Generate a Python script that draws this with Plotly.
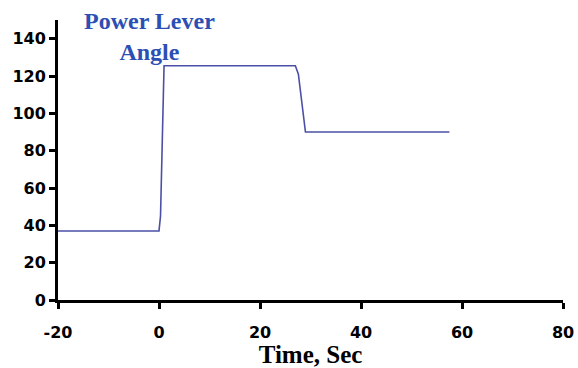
import plotly.graph_objects as go

time_sec = [-20, 0, 0.3, 1.0, 27.0, 27.6, 29.0, 57.5]
pla_deg = [37, 37, 45, 125.5, 125.5, 121, 90, 90]

x_ticks = [-20, 0, 20, 40, 60, 80]
x_labels = ["-20", "0", "20", "40", "60", "80"]
y_ticks = [0, 20, 40, 60, 80, 100, 120, 140]

fig = go.Figure()
fig.add_trace(go.Scatter(x=time_sec, y=pla_deg, mode="lines",
                         line=dict(color="#4b50a6", width=1.6),
                         showlegend=False, hoverinfo="skip"))

tick_font = dict(family="DejaVu Sans", size=16, color="black", weight="bold")

fig.update_layout(
    width=578, height=368,
    margin=dict(l=58, r=15, t=19.5, b=68, autoexpand=False),
    paper_bgcolor="white", plot_bgcolor="white",
    xaxis=dict(range=[-20, 80], tickvals=x_ticks, ticktext=x_labels,
               ticks="outside", ticklen=6, automargin=False,
               tickwidth=3, tickcolor="black", showline=True, linecolor="black",
               linewidth=3, showgrid=False, zeroline=False, tickfont=tick_font,
               ticklabelstandoff=10,
               title=dict(text="Time, Sec", standoff=0,
                          font=dict(family="Liberation Serif", size=25,
                                    color="black", weight="bold"))),
    yaxis=dict(range=[0, 150], tickvals=y_ticks, ticks="outside", ticklen=6,
               automargin=False,
               tickwidth=3, tickcolor="black", showline=True, linecolor="black",
               linewidth=3, showgrid=False, zeroline=False, tickfont=tick_font,
               ticklabelstandoff=0),
    annotations=[dict(text="Power Lever<br>Angle", x=-1.8, y=141, xref="x",
                      yref="y", yanchor="middle", showarrow=False,
                      font=dict(family="Liberation Serif", size=24,
                                color="#2c4fb3", weight="bold"))],
)

fig.write_html("out.html")
